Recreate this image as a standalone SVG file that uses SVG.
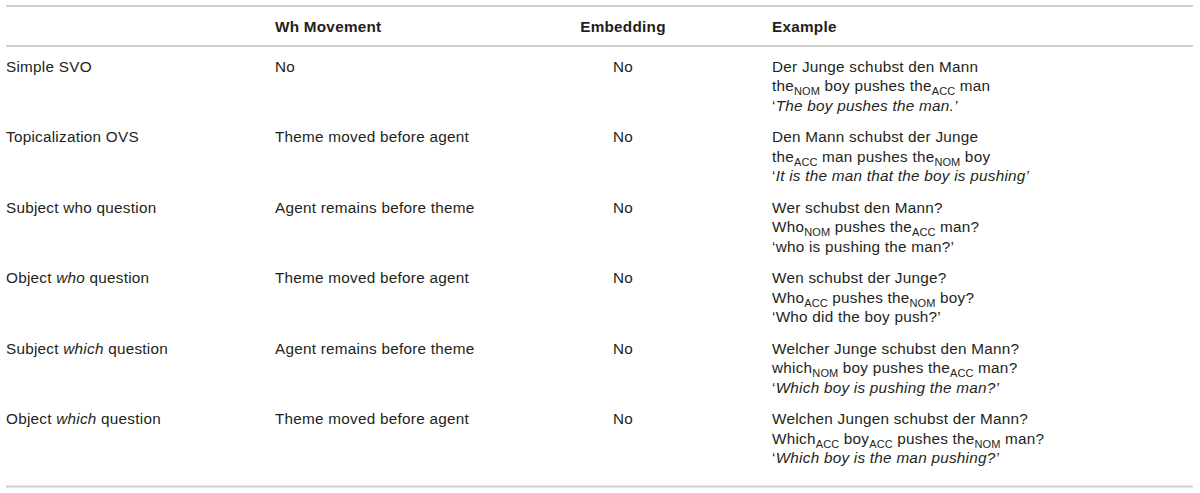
<svg xmlns="http://www.w3.org/2000/svg" width="1200" height="493" viewBox="0 0 1200 493">
<style>
text{font-family:"Liberation Sans",Arial,Helvetica,sans-serif;font-size:15.3px;letter-spacing:0.25px;fill:#231f20}
.h{font-weight:bold}
.c{text-anchor:middle}
.i{font-style:italic}
.s{font-size:11px;letter-spacing:0.1px}
.rule{stroke:#cfcfcf;stroke-width:2;fill:none}
</style>
<rect width="1200" height="493" fill="#ffffff"/>
<g id="rules">
<line class="rule" x1="6" y1="6" x2="1193" y2="6"/>
<line class="rule" x1="6" y1="46" x2="1193" y2="46"/>
<line class="rule" x1="6" y1="486.5" x2="1193" y2="486.5"/>
</g>
<g id="header">
<text class="h" x="275" y="32">Wh Movement</text>
<text class="h c" x="623" y="32">Embedding</text>
<text class="h" x="772" y="32">Example</text>
</g>
<g id="row1">
<text x="6" y="71.5">Simple SVO</text>
<text x="275" y="71.5">No</text>
<text class="c" x="623" y="71.5">No</text>
<text x="772" y="71.5">Der Junge schubst den Mann</text>
<text x="772" y="91">the<tspan class="s" dy="4">NOM</tspan><tspan dy="-4"> boy pushes the</tspan><tspan class="s" dy="4">ACC</tspan><tspan dy="-4"> man</tspan></text>
<text x="772" y="110.5">‘<tspan class="i">The boy pushes the man.’</tspan></text>
</g>
<g id="row2">
<text x="6" y="142">Topicalization OVS</text>
<text x="275" y="142">Theme moved before agent</text>
<text class="c" x="623" y="142">No</text>
<text x="772" y="142">Den Mann schubst der Junge</text>
<text x="772" y="161.5">the<tspan class="s" dy="4">ACC</tspan><tspan dy="-4"> man pushes the</tspan><tspan class="s" dy="4">NOM</tspan><tspan dy="-4"> boy</tspan></text>
<text x="772" y="181">‘<tspan class="i">It is the man that the boy is pushing’</tspan></text>
</g>
<g id="row3">
<text x="6" y="212.5">Subject who question</text>
<text x="275" y="212.5">Agent remains before theme</text>
<text class="c" x="623" y="212.5">No</text>
<text x="772" y="212.5">Wer schubst den Mann?</text>
<text x="772" y="232">Who<tspan class="s" dy="4">NOM</tspan><tspan dy="-4"> pushes the</tspan><tspan class="s" dy="4">ACC</tspan><tspan dy="-4"> man?</tspan></text>
<text x="772" y="251.5">‘who is pushing the man?’</text>
</g>
<g id="row4">
<text x="6" y="283">Object <tspan class="i">who</tspan> question</text>
<text x="275" y="283">Theme moved before agent</text>
<text class="c" x="623" y="283">No</text>
<text x="772" y="283">Wen schubst der Junge?</text>
<text x="772" y="302.5">Who<tspan class="s" dy="4">ACC</tspan><tspan dy="-4"> pushes the</tspan><tspan class="s" dy="4">NOM</tspan><tspan dy="-4"> boy?</tspan></text>
<text x="772" y="322">‘Who did the boy push?’</text>
</g>
<g id="row5">
<text x="6" y="353.5">Subject <tspan class="i">which</tspan> question</text>
<text x="275" y="353.5">Agent remains before theme</text>
<text class="c" x="623" y="353.5">No</text>
<text x="772" y="353.5">Welcher Junge schubst den Mann?</text>
<text x="772" y="373">which<tspan class="s" dy="4">NOM</tspan><tspan dy="-4"> boy pushes the</tspan><tspan class="s" dy="4">ACC</tspan><tspan dy="-4"> man?</tspan></text>
<text x="772" y="392.5">‘<tspan class="i">Which boy is pushing the man?’</tspan></text>
</g>
<g id="row6">
<text x="6" y="424">Object <tspan class="i">which</tspan> question</text>
<text x="275" y="424">Theme moved before agent</text>
<text class="c" x="623" y="424">No</text>
<text x="772" y="424">Welchen Jungen schubst der Mann?</text>
<text x="772" y="443.5">Which<tspan class="s" dy="4">ACC</tspan><tspan dy="-4"> boy</tspan><tspan class="s" dy="4">ACC</tspan><tspan dy="-4"> pushes the</tspan><tspan class="s" dy="4">NOM</tspan><tspan dy="-4"> man?</tspan></text>
<text x="772" y="463">‘<tspan class="i">Which boy is the man pushing?’</tspan></text>
</g>
</svg>
